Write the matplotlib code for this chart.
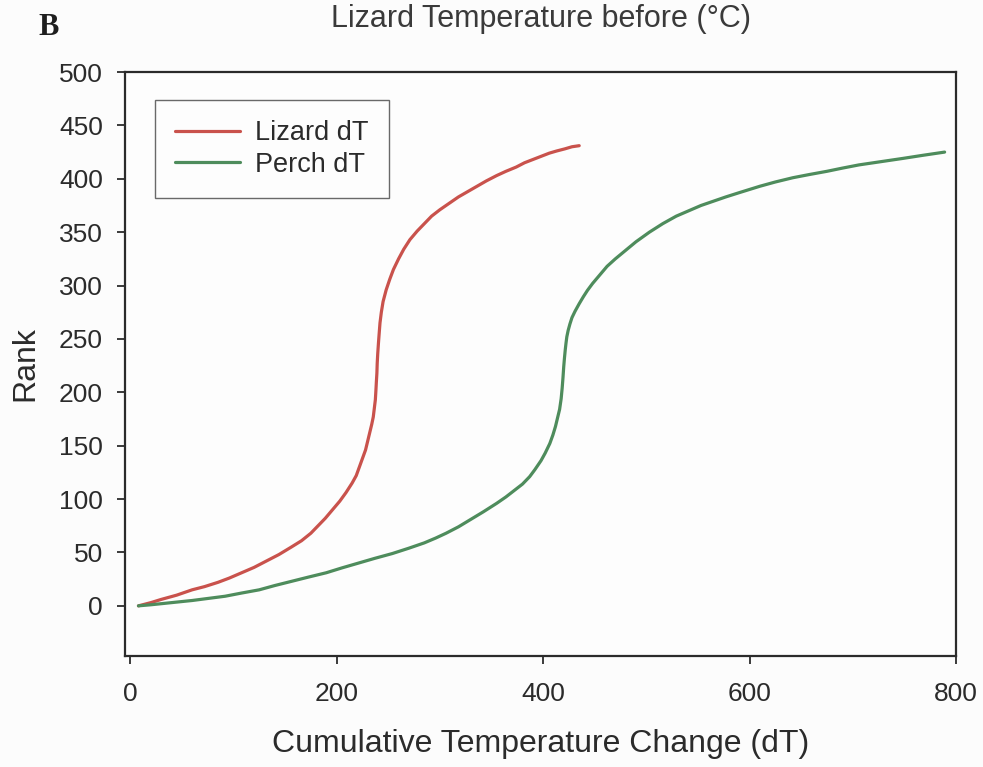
import matplotlib
matplotlib.use("Agg")
import matplotlib.pyplot as plt

# Cumulative temperature change (dT) against rank for each series
lizard_dt = [8, 20, 30, 45, 60, 72, 85, 96, 108, 120, 132, 144, 156, 166, 175,
             182, 189, 196, 203, 209, 215, 219, 222, 225, 228, 230, 232, 234,
             235.5, 236.5, 237.5, 238, 238.5, 239, 239.3, 239.8, 240.5, 241.2,
             242, 243.3, 245, 248, 251.5, 255, 260, 265, 271, 278, 285, 292,
             300, 309, 318, 327, 336, 345, 355, 364, 374, 382, 390, 398, 406,
             413, 421, 428, 435]
lizard_rank = [0, 3, 6, 10, 15, 18, 22, 26, 31, 36, 42, 48, 55, 61, 68,
               75, 82, 90, 98, 106, 115, 122, 130, 138, 146, 154, 162, 170,
               177, 185, 193, 201, 210, 218, 227, 236, 246, 255,
               265, 275, 285, 296, 306, 315, 325, 334, 343, 351, 358, 365,
               371, 377, 383, 388, 393, 398, 403, 407, 411, 415, 418, 421, 424,
               426, 428, 430, 431]

perch_dt = [8, 20, 30, 45, 60, 76, 92, 108, 125, 140, 156.5, 173, 190, 205,
            221, 237, 254, 270, 285, 296, 306, 318, 330, 342, 355, 364, 372,
            380, 387, 392, 398, 402, 406.5, 409.5, 412, 414, 416, 417.5, 418.5,
            419.3, 420, 420.7, 421.5, 422.2, 423, 424.3, 426, 428, 431, 435,
            439, 443, 448, 455, 462, 470, 480, 490, 503, 516, 529, 541, 553,
            565, 577, 590, 610, 625, 642, 658, 675, 690, 706, 727, 748, 768,
            789]
perch_rank = [0, 1, 2, 3.5, 5, 7, 9, 12, 15, 19, 23, 27, 31, 35.5,
              40, 44.5, 49, 54, 59, 63.5, 68, 74, 81, 88, 96, 102, 108,
              114, 121, 127.5, 136, 143, 152, 160, 168, 176, 184, 194, 204,
              214, 224, 232, 240, 246, 252, 258, 264, 270, 276, 283,
              289.5, 295.5, 302, 310, 318, 325, 333, 341, 350, 358, 365, 370, 375,
              379, 383, 387, 393, 397, 401, 404, 407, 410, 413, 416, 419, 422,
              425]

x_ticks = [0, 200, 400, 600, 800]
y_ticks = [0, 50, 100, 150, 200, 250, 300, 350, 400, 450, 500]

series_labels = ["Lizard dT", "Perch dT"]
x_label = "Cumulative Temperature Change (dT)"
y_label = "Rank"
panel_label = "B"
top_title = "Lizard Temperature before (\u00b0C)"

plt.rcParams["font.family"] = ["Liberation Sans", "DejaVu Sans"]

ink = "#2b2b2b"
red = "#c9524c"
green = "#4e8c5c"

fig = plt.figure(figsize=(9.83, 7.67), dpi=100, facecolor="#fcfcfc")
ax = fig.add_axes([0.1272, 0.1447, 0.8453, 0.7614])
ax.set_facecolor("#fdfdfd")

ax.plot(lizard_dt, lizard_rank, color=red, lw=2.3, label=series_labels[0],
        solid_capstyle="round", solid_joinstyle="round")
ax.plot(perch_dt, perch_rank, color=green, lw=2.3, label=series_labels[1],
        solid_capstyle="round", solid_joinstyle="round")

ax.set_xlim(-5, 800)
ax.set_ylim(-47, 500)
ax.set_xticks(x_ticks)
ax.set_yticks(y_ticks)

for side in ["left", "right", "top", "bottom"]:
    ax.spines[side].set_linewidth(1.6)
    ax.spines[side].set_color(ink)

ax.tick_params(axis="both", direction="out", length=6, width=1.3,
               colors=ink, labelsize=19)
ax.tick_params(axis="y", pad=10)
ax.tick_params(axis="x", pad=13)

ax.set_xlabel(x_label, fontsize=23, color=ink, labelpad=16)
ax.set_ylabel(y_label, fontsize=23, color=ink, labelpad=13)

leg = ax.legend(loc="upper left", bbox_to_anchor=(0.036, 0.952),
                fontsize=19.5, frameon=True, fancybox=False,
                handlelength=2.4, handletextpad=0.55, labelspacing=0.2,
                borderpad=0.75, borderaxespad=0.0)
leg.get_frame().set_edgecolor("#444444")
leg.get_frame().set_linewidth(1.0)
leg.get_frame().set_facecolor("#fdfdfd")
for t in leg.get_texts():
    t.set_color(ink)

fig.text(0.55, 1 - 27 / 767, top_title, ha="center", va="baseline",
         fontsize=22, color="#3a3a3a")
fig.text(38 / 983, 1 - 35 / 767, panel_label, ha="left", va="baseline",
         fontsize=22, fontweight="bold", color="#1e1e1e",
         family=["Liberation Serif", "DejaVu Serif"])

fig.savefig("out.png", dpi=100, facecolor=fig.get_facecolor())
